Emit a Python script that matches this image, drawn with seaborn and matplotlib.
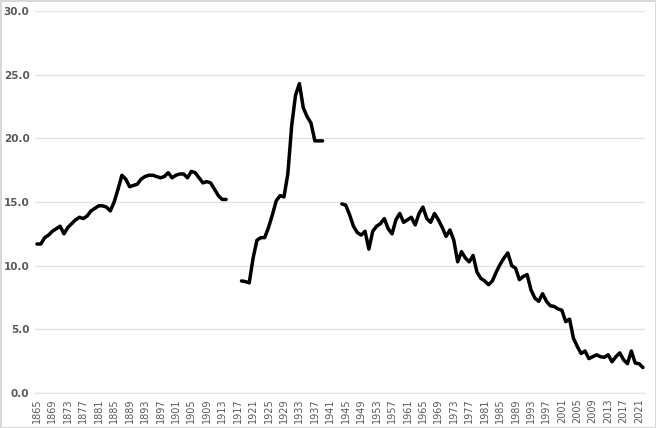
import pandas as pd
import seaborn as sns
import matplotlib.pyplot as plt
import numpy as np

sns.set_style('white')

# values, one list per unbroken stretch of years
years_a = list(range(1865, 1915))
vals_a = [11.7, 11.7, 12.2, 12.4, 12.7, 12.9, 13.1, 12.5, 13.0, 13.3,
          13.6, 13.8, 13.7, 13.9, 14.3, 14.5, 14.7, 14.7, 14.6, 14.3,
          15.0, 16.0, 17.1, 16.8, 16.2, 16.3, 16.4, 16.8, 17.0, 17.1,
          17.1, 17.0, 16.9, 17.0, 17.3, 16.9, 17.1, 17.2, 17.2, 16.9,
          17.4, 17.3, 16.9, 16.5, 16.6, 16.5, 16.0, 15.5, 15.2, 15.2]

years_b = list(range(1918, 1940))
vals_b = [8.8, 8.75, 8.65, 10.6, 12.0, 12.2, 12.2, 13.0, 14.0, 15.1,
          15.5, 15.4, 17.2, 21.0, 23.4, 24.3, 22.4, 21.7, 21.2, 19.8,
          19.8, 19.8]

years_c = list(range(1944, 2023))
vals_c = [14.85, 14.75, 14.0, 13.1, 12.6, 12.4, 12.7, 11.3, 12.7, 13.1,
          13.3, 13.7, 12.9, 12.5, 13.6, 14.1, 13.4, 13.6, 13.8, 13.2,
          14.1, 14.6, 13.7, 13.4, 14.1, 13.6, 13.0, 12.3, 12.8, 12.0,
          10.3, 11.1, 10.6, 10.3, 10.8, 9.5, 9.0, 8.8, 8.5, 8.8,
          9.5, 10.1, 10.6, 11.0, 10.0, 9.8, 8.9, 9.15, 9.3, 8.1,
          7.45, 7.2, 7.8, 7.2, 6.85, 6.8, 6.6, 6.5, 5.6, 5.8,
          4.3, 3.65, 3.1, 3.3, 2.7, 2.85, 3.0, 2.85, 2.8, 3.0,
          2.45, 2.85, 3.15, 2.6, 2.3, 3.3, 2.35, 2.3, 2.0]

tick_years = list(range(1865, 2022, 4))

df = pd.concat([
    pd.DataFrame({'year': years_a, 'value': vals_a, 'seg': 'a'}),
    pd.DataFrame({'year': years_b, 'value': vals_b, 'seg': 'b'}),
    pd.DataFrame({'year': years_c, 'value': vals_c, 'seg': 'c'}),
])

fig = plt.figure(figsize=(6.56, 4.28), dpi=100, linewidth=1, edgecolor='#d9d9d9')
ax = fig.add_axes([0.0534, 0.0818, 0.9296, 0.8925])

sns.lineplot(data=df, x='year', y='value', units='seg', estimator=None,
             color='black', linewidth=2.5, ax=ax)

ax.set_xlim(1864.5, 2022.5)
ax.set_ylim(0, 30)
ax.set_yticks(np.arange(0, 31, 5))
ax.set_yticklabels([f'{v:.1f}' for v in np.arange(0, 31, 5)],
                   fontsize=7.5, fontweight='bold', color='#595959')
ax.set_xticks(tick_years)
ax.set_xticklabels([str(y) for y in tick_years], rotation=90,
                   fontsize=7, color='#595959')
ax.tick_params(axis='both', length=0, pad=4)
ax.yaxis.grid(True, color='#e3e3e3', linewidth=1)
ax.set_axisbelow(True)
for s in ['top', 'right', 'left']:
    ax.spines[s].set_visible(False)
ax.spines['bottom'].set_color('#e3e3e3')
ax.set_xlabel('')
ax.set_ylabel('')

fig.savefig('out.png', dpi=100, edgecolor=fig.get_edgecolor())
